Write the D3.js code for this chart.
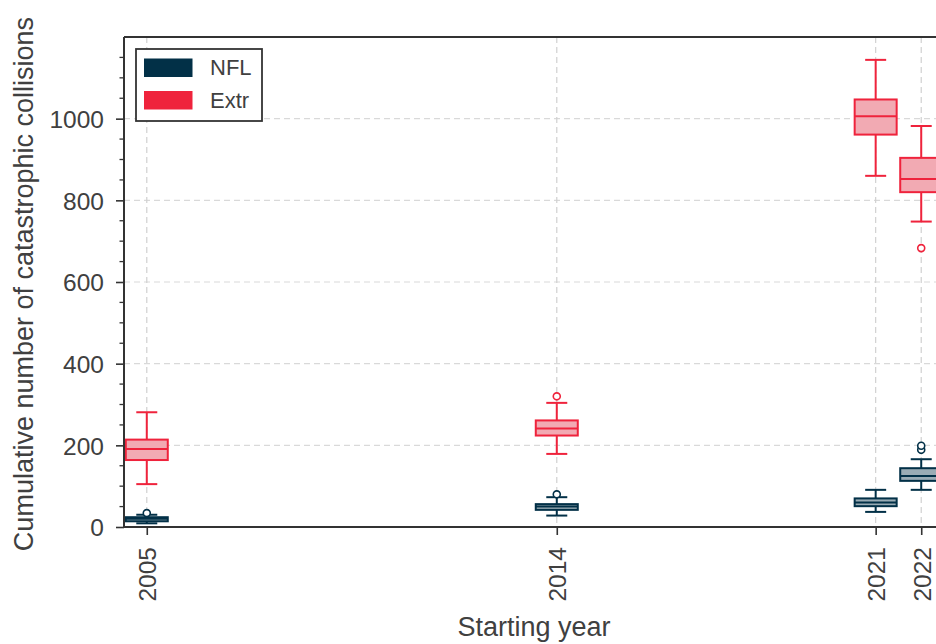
<!DOCTYPE html>
<html><head><meta charset="utf-8">
<script src="https://cdn.jsdelivr.net/npm/d3@7/dist/d3.min.js"></script>
<style>body{margin:0;background:#fff}svg{display:block;font-family:"Liberation Sans",Arial,sans-serif}</style>
</head><body><svg id="c" width="936" height="644"></svg>
<script>
const years = [2005, 2014, 2021, 2022];
const yTicks = [0, 200, 400, 600, 800, 1000];
const seriesNames = ["NFL", "Extr"];
// NFL box stats
const nflLow = [9, 28, 37, 91];
const nflQ1 = [14, 42, 51, 113];
const nflMed = [20, 50, 60, 125];
const nflQ3 = [24, 56, 70, 144];
const nflHigh = [30, 73, 91, 166];
const nflOut = [[34], [80], [], [189, 199]];
// Extr box stats
const extLow = [105, 179, 860, 748];
const extQ1 = [164, 224, 961, 820];
const extMed = [191, 241, 1006, 852];
const extQ3 = [214, 261, 1047, 904];
const extHigh = [281, 304, 1144, 982];
const extOut = [[], [320], [], [683]];

const colors = {NFL: "#023047", Extr: "#EF233C"};
const fills = {NFL: "#9aacb5", Extr: "#f2aab3"};
const textCol = "#404040";

const svg = d3.select("#c");
const m = {l: 124, t: 37, r: 944, b: 527};
const x = d3.scaleLinear().domain([2004.5, 2022.5]).range([m.l, m.r]);
const y = d3.scaleLinear().domain([0, 1200]).range([m.b, m.t]);

// grid
const grid = svg.append("g");
grid.selectAll(".gy").data(yTicks).join("line")
  .attr("x1", m.l).attr("x2", m.r).attr("y1", d => y(d)).attr("y2", d => y(d))
  .attr("stroke", "#d9d9d9").attr("stroke-width", 1.2).attr("stroke-dasharray", "6,4");
grid.selectAll(".gx").data(years).join("line")
  .attr("x1", d => x(d)).attr("x2", d => x(d)).attr("y1", m.t).attr("y2", m.b)
  .attr("stroke", "#d0d0d0").attr("stroke-width", 1.2).attr("stroke-dasharray", "6,4");

// boxes
const boxW = 42;
function drawSeries(name, lo, q1, med, q3, hi, outs) {
  const c = colors[name];
  const g = svg.append("g");
  years.forEach((yr, i) => {
    const cx = x(yr);
    g.append("line").attr("x1", cx).attr("x2", cx).attr("y1", y(hi[i])).attr("y2", y(q3[i]))
      .attr("stroke", c).attr("stroke-width", 2);
    g.append("line").attr("x1", cx).attr("x2", cx).attr("y1", y(q1[i])).attr("y2", y(lo[i]))
      .attr("stroke", c).attr("stroke-width", 2);
    [hi[i], lo[i]].forEach(v => g.append("line").attr("x1", cx - boxW/4).attr("x2", cx + boxW/4)
      .attr("y1", y(v)).attr("y2", y(v)).attr("stroke", c).attr("stroke-width", 2));
    g.append("rect").attr("x", cx - boxW/2).attr("width", boxW)
      .attr("y", y(q3[i])).attr("height", y(q1[i]) - y(q3[i]))
      .attr("fill", fills[name]).attr("stroke", c).attr("stroke-width", 2);
    g.append("line").attr("x1", cx - boxW/2).attr("x2", cx + boxW/2)
      .attr("y1", y(med[i])).attr("y2", y(med[i])).attr("stroke", c).attr("stroke-width", 2);
    outs[i].forEach(v => g.append("circle").attr("cx", cx).attr("cy", y(v)).attr("r", 3.5)
      .attr("fill", "#fff").attr("stroke", c).attr("stroke-width", 1.6));
  });
}
drawSeries("Extr", extLow, extQ1, extMed, extQ3, extHigh, extOut);
drawSeries("NFL", nflLow, nflQ1, nflMed, nflQ3, nflHigh, nflOut);

// axes
const yAxis = d3.axisLeft(y).tickValues(yTicks).tickFormat(d3.format("d")).tickSize(8).tickPadding(12);
const yg = svg.append("g").attr("transform", `translate(${m.l},0)`).call(yAxis);
yg.attr("font-family", null).attr("font-size", null);
const minor = d3.range(0, 1201, 50).filter(v => v % 200 !== 0);
svg.append("g").selectAll("line").data(minor).join("line")
  .attr("x1", m.l - 4.5).attr("x2", m.l).attr("y1", d => y(d)).attr("y2", d => y(d))
  .attr("stroke", "#333").attr("stroke-width", 1.3);
yg.select(".domain").remove();
yg.selectAll(".tick line").attr("stroke", "#333").attr("stroke-width", 1.6);
yg.selectAll(".tick text").attr("font-size", 24.5).attr("fill", textCol).attr("dy", "0.36em");

const xAxis = d3.axisBottom(x).tickValues(years).tickFormat(d3.format("d")).tickSize(8);
const xg = svg.append("g").attr("transform", `translate(0,${m.b})`).call(xAxis);
xg.attr("font-family", null).attr("font-size", null);
xg.select(".domain").remove();
xg.selectAll(".tick line").attr("stroke", "#333").attr("stroke-width", 1.6);
xg.selectAll(".tick text").attr("font-size", 24.5).attr("fill", textCol)
  .attr("transform", "rotate(-90)").attr("text-anchor", "end")
  .attr("x", -20).attr("y", 0).attr("dy", "0.36em");

// spines
svg.append("line").attr("x1", m.l).attr("x2", m.r).attr("y1", m.t).attr("y2", m.t).attr("stroke", "#333").attr("stroke-width", 2);
svg.append("line").attr("x1", m.l).attr("x2", m.r).attr("y1", m.b).attr("y2", m.b).attr("stroke", "#333").attr("stroke-width", 2);
svg.append("line").attr("x1", m.l).attr("x2", m.l).attr("y1", m.t).attr("y2", m.b).attr("stroke", "#333").attr("stroke-width", 2);
svg.append("line").attr("x1", m.r).attr("x2", m.r).attr("y1", m.t).attr("y2", m.b).attr("stroke", "#333").attr("stroke-width", 2);

// axis labels
svg.append("text").attr("x", (m.l + m.r) / 2).attr("y", 636).attr("text-anchor", "middle")
  .attr("font-size", 27).attr("fill", textCol).text("Starting year");
svg.append("text").attr("transform", `translate(33,${(m.t + m.b) / 2 + 2}) rotate(-90)`)
  .attr("text-anchor", "middle").attr("font-size", 27).attr("fill", textCol)
  .text("Cumulative number of catastrophic collisions");

// legend
const lg = svg.append("g");
lg.append("rect").attr("x", 136).attr("y", 49).attr("width", 126).attr("height", 72)
  .attr("fill", "#fff").attr("stroke", "#333").attr("stroke-width", 1.8);
seriesNames.forEach((s, i) => {
  lg.append("rect").attr("x", 144).attr("y", 58.5 + i * 32.5).attr("width", 48.5).attr("height", 18.5)
    .attr("fill", colors[s]);
  lg.append("text").attr("x", 210).attr("y", 67.5 + i * 32.5).attr("dy", "0.36em")
    .attr("font-size", 22).attr("fill", textCol).text(s);
});
</script></body></html>
